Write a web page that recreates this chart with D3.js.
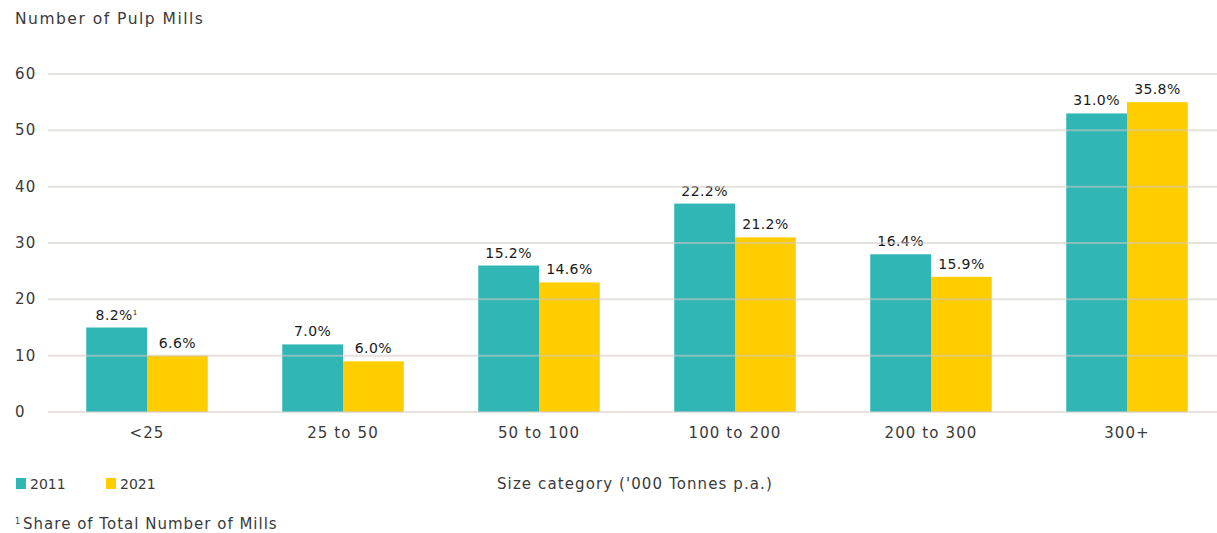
<!DOCTYPE html>
<html>
<head>
<meta charset="utf-8">
<script src="https://cdn.jsdelivr.net/npm/d3@7"></script>
<style>
  body { margin: 0; background: #fff; }
  text { font-family: "DejaVu Sans", sans-serif; fill: #3a3a3a; letter-spacing: 1.1px; }
</style>
</head>
<body>
<div class="canvas"></div>
<script>
const categories = ["<25", "25 to 50", "50 to 100", "100 to 200", "200 to 300", "300+"];
const series = ["2011", "2021"];
const values2011 = [15, 12, 26, 37, 28, 53];
const values2021 = [10, 9, 23, 31, 24, 55];
const labels2011 = ["8.2%", "7.0%", "15.2%", "22.2%", "16.4%", "31.0%"];
const labels2021 = ["6.6%", "6.0%", "14.6%", "21.2%", "15.9%", "35.8%"];
const yTicks = [0, 10, 20, 30, 40, 50, 60];

const colors = d3.scaleOrdinal().domain(series).range(["#31b6b6", "#ffcd00"]);

const width = 1217, height = 533;

const svg = d3.select(".canvas")
  .append("svg")
  .attr("width", width)
  .attr("height", height);

const x = d3.scaleBand()
  .domain(categories)
  .range([49, 1225])
  .paddingInner(0.38)
  .paddingOuter(0.19);

const xInner = d3.scaleBand()
  .domain(series)
  .range([0, x.bandwidth()]);

const y = d3.scaleLinear()
  .domain([0, 60])
  .range([412, 74]);

const rows = categories.map((c, i) => ({
  cat: c,
  bars: [
    { key: "2011", value: values2011[i], label: labels2011[i], note: i === 0 },
    { key: "2021", value: values2021[i], label: labels2021[i], note: false }
  ]
}));

// title
svg.append("text")
  .attr("x", 15)
  .attr("y", 24)
  .style("font-size", "15.5px")
  .style("letter-spacing", "1.5px")
  .text("Number of Pulp Mills");

// y tick labels
svg.selectAll(".ytick")
  .data(yTicks)
  .enter()
  .append("text")
  .attr("class", "ytick")
  .attr("x", 15)
  .attr("y", d => y(d) + 5)
  .style("font-size", "15px")
  .text(d => d);

// bars
const groups = svg.selectAll(".grp")
  .data(rows)
  .enter()
  .append("g")
  .attr("class", "grp")
  .attr("transform", d => `translate(${x(d.cat)},0)`);

groups.selectAll("rect")
  .data(d => d.bars)
  .enter()
  .append("rect")
  .attr("x", d => xInner(d.key))
  .attr("width", xInner.bandwidth())
  .attr("y", d => y(d.value))
  .attr("height", d => y(0) - y(d.value))
  .attr("fill", d => colors(d.key));

const lbl = groups.selectAll(".val")
  .data(d => d.bars)
  .enter()
  .append("text")
  .attr("class", "val")
  .attr("x", d => xInner(d.key) + xInner.bandwidth() / 2)
  .attr("y", d => y(d.value) - 8)
  .attr("text-anchor", "middle")
  .style("font-size", "14px")
  .style("letter-spacing", "0.4px")
  .style("fill", "#1a1a1a")
  .text(d => d.label);

lbl.filter(d => d.note)
  .append("tspan")
  .attr("dy", -5)
  .style("font-size", "7px")
  .text("1");

// gridlines drawn over the bars, faint
svg.append("g")
  .selectAll("line")
  .data(yTicks)
  .enter()
  .append("line")
  .attr("x1", 48)
  .attr("x2", width)
  .attr("y1", d => y(d))
  .attr("y2", d => y(d))
  .attr("stroke", "#cfc8c2")
  .attr("stroke-opacity", 0.55)
  .attr("stroke-width", 2);

// x labels
svg.selectAll(".xlab")
  .data(categories)
  .enter()
  .append("text")
  .attr("class", "xlab")
  .attr("x", d => x(d) + x.bandwidth() / 2)
  .attr("y", 438)
  .attr("text-anchor", "middle")
  .style("font-size", "15px")
  .text(d => d);

// legend
const legend = svg.selectAll(".leg")
  .data(series)
  .enter()
  .append("g")
  .attr("class", "leg")
  .attr("transform", (d, i) => `translate(${16 + i * 90}, 478)`);

legend.append("rect")
  .attr("width", 10)
  .attr("height", 11)
  .attr("fill", d => colors(d));

legend.append("text")
  .attr("x", 14)
  .attr("y", 11)
  .style("font-size", "14px")
  .style("letter-spacing", "0px")
  .text(d => d);

svg.append("text")
  .attr("x", 497)
  .attr("y", 489)
  .style("font-size", "15px")
  .text("Size category ('000 Tonnes p.a.)");

// footnote
const foot = svg.append("text")
  .attr("x", 15)
  .attr("y", 529)
  .style("font-size", "15px")
  .style("letter-spacing", "1px");
foot.append("tspan")
  .attr("dy", -5)
  .style("font-size", "8px")
  .text("1");
foot.append("tspan")
  .attr("dy", 5)
  .attr("dx", 2)
  .text("Share of Total Number of Mills");
</script>
</body>
</html>
